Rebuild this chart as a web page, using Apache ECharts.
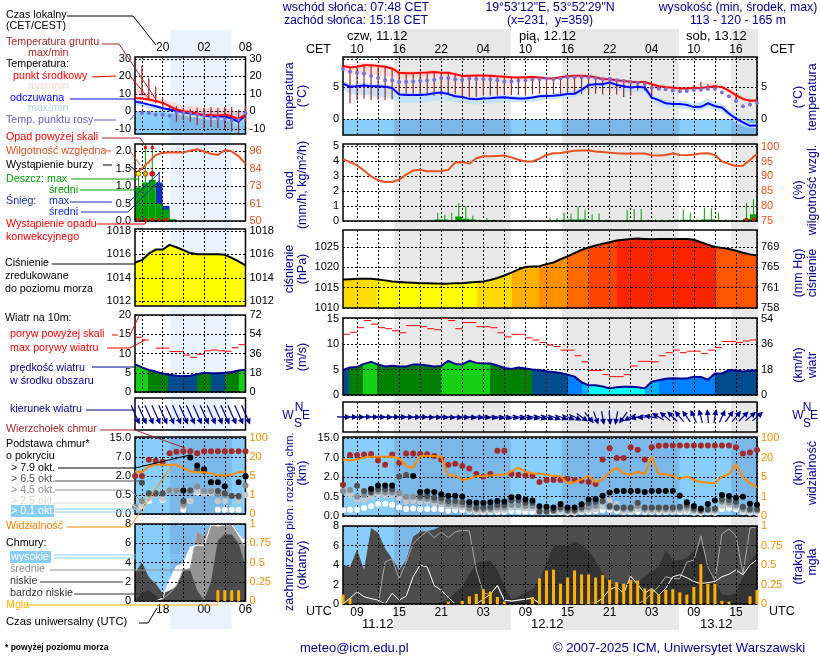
<!DOCTYPE html>
<html>
<head>
<meta charset="utf-8">
<title>meteogram</title>
<script src="https://cdn.jsdelivr.net/npm/echarts@6/dist/echarts.min.js"></script>
<style>
  html, body { margin: 0; padding: 0; background: #fff; }
  #chart { width: 820px; height: 660px; }
</style>
</head>
<body>
<div id="chart"></div>
<script>
// hour labels of the short (left) and long (right) meteogram
const leftUtc = ["14","15","16","17","18","19","20","21","22","23","00","01","02","03","04","05","06"];
const leftLocal = ["16","17","18","19","20","21","22","23","00","01","02","03","04","05","06","07","08"];
const rightUtc = ["07","08","09","10","11","12","13","14","15","16","17","18","19","20","21","22","23","00","01","02","03","04","05","06","07","08","09","10","11","12","13","14","15","16","17","18","19","20","21","22","23","00","01","02","03","04","05","06","07","08","09","10","11","12","13","14","15","16","17","18"];
const rightLocal = ["08","09","10","11","12","13","14","15","16","17","18","19","20","21","22","23","00","01","02","03","04","05","06","07","08","09","10","11","12","13","14","15","16","17","18","19","20","21","22","23","00","01","02","03","04","05","06","07","08","09","10","11","12","13","14","15","16","17","18","19"];

// temperature, long panel
const tempMid = [8.4,8.15,8.25,8.5,8.5,8.4,8.25,8,7.3,7.25, 7.25,7.3,7.35,7.45,7.3,7.3,7.1,6.8,6.85,6.9, 6.9,6.85,6.75,6.7,6.6,6.55,6.6,6.65,6.55,6.45, 6.4,6.6,6.75,6.85,6.85,6.75,6.6,6.3,6.3,6.15, 6,5.9,5.85,5.85,5.5,5.2,5.05,4.95,4.85,4.85, 4.9,4.9,5.05,5.2,5.05,4.5,3.8,3.2,2.9,2.95];
const tempMidMax = [8.9,8.7,8.8,8.9,8.9,8.8,8.6,8.3,7.7,7.6, 7.6,7.6,7.7,7.8,7.6,7.6,7.3,7,7.1,7.1, 7.1,7.1,7,6.9,6.8,6.8,6.8,6.9,6.8,6.7, 6.6,6.8,7,7.1,7.2,7.1,7,6.7,6.6,6.4, 6.3,6.2,6.1,6.1,5.8,5.5,5.4,5.3,5.2,5.2, 5.3,5.6,5.7,5.7,5.5,4.9,4.2,3.6,3.2,3.2];
const tempMidMin = [7.6,7.1,7,6.9,6.9,6.9,6.9,6.8,6.6,6.6, 6.6,6.7,6.8,6.9,6.8,6.8,6.6,6.4,6.4,6.5, 6.5,6.4,6.4,6.3,6.2,6.2,6.2,6.3,6.2,6.1, 6,6.2,6.3,6.4,6.4,6.3,6.2,5.9,5.8,5.7, 5.6,5.5,5.5,5.5,5.1,4.9,4.7,4.6,4.5,4.5, 4.5,4.5,4.6,4.8,4.6,4.1,3.4,2.8,2.6,2.6];
const tempFeel = [5.6,5.1,5.2,5.3,5.2,5.2,5.1,4.9,3.9,3.8, 3.8,3.8,3.9,4.1,4.2,3.95,3.6,3.5,3.2,3.15, 3.25,3.3,3.4,3.45,3.35,3.25,3.25,3.4,3.6,3.65, 3.7,3.8,3.95,4,4.6,5.4,5.5,5.5,5.8,5.4, 5.2,5,5.1,5,3.4,3,2.5,2.4,2.4,2.25, 1.9,1.95,2.5,2.05,1.85,0.9,0.1,-0.5,-1.05,-1];
const tempFeelMax = [6.1,5.6,5.7,5.8,5.7,5.6,5.5,5.3,4.3,4.2, 4.2,4.2,4.3,4.5,4.6,4.4,4,3.8,3.5,3.5, 3.6,3.6,3.7,3.8,3.7,3.6,3.6,3.7,3.9,4, 4.1,4.2,4.4,4.5,5,5.7,5.8,5.8,6,5.7, 5.5,5.3,5.4,5.3,3.9,3.5,3,2.9,2.9,2.8, 2.5,2.7,3.2,2.7,2.4,1.5,0.7,0.1,-0.6,-0.6];
const tempFeelMin = [4.7,3.9,3.9,3.8,3.7,3.5,3.4,3.3,2.7,2.6, 2.6,2.6,2.7,2.9,3,2.9,2.7,2.6,2.4,2.3, 2.4,2.5,2.6,2.7,2.7,2.7,2.7,2.8,2.9,3.1, 3.1,3.2,3.4,3.4,3.9,4.7,4.8,4.8,4.9,4.6, 4.4,4.2,4.3,4.3,2.8,2.2,1.8,1.7,1.7,1.6, 1.3,1.4,1.8,1.5,1.2,0.3,-0.6,-1.1,-1.4,-1.4];
const dewPoint = [7.9,7.5,7.3,7.2,6.8,6.5,6.15,6.15,5.85,5.9, 5.95,6,6.1,6.2,6.5,6.5,6.3,6.2,6.4,6.35, 6.35,6.3,6.15,5.95,5.95,6.05,6.15,6.25,6.35,6.4, 6.35,6.45,6.6,6.6,6.6,6.6,6.5,6.35,6.35,6.15, 6,5.85,5.75,5.6,5,4.8,4.7,4.5,4.4,4.45, 4.6,4.7,4.8,4.8,4.2,3.6,2.85,2.05,2.3,2.6];
const groundMax = [null,8,8.2,8.4,8.4,8.3,8.2,7.9,7.2,7.2, 7.2,7.2,7.3,7.4,7.3,7.3,7,6.8,6.8,6.9, 6.9,6.8,6.7,6.6,6.6,6.5,6.6,6.6,6.5,6.4, 6.4,6.6,6.7,6.8,6.8,6.7,6.6,6.3,6.3,6.1, 6,5.9,5.8,5.8,5.5,null,null,null,null,null, 5.3,5.9,5.5,5.3,null,null,3.8,null,null,null];
const groundMin = [null,2.5,3,3.2,3,3.1,3,3.1,3.8,3.8, 3.7,3.7,3.8,3.7,3.7,4,4,3.4,3.5,3.5, 3.7,3.7,3.7,3.8,3.8,3.8,3.7,3.9,4,3.9, 3.9,4,4.1,4,3.9,4,4,3.9,4,3.9, 3.5,3.7,4.5,4.5,3.7,null,null,null,null,null, 4.5,4.3,4.5,4.6,null,null,3,null,null,null];

// temperature, short panel
const shortTempMid = [7.5,7.3,6.7,5.9,4.8,2.9,1,0,-0.4,-1.3,-2.1,-2.1,-2.5,-1.9,-2.9,-4.4,-1.9];
const shortTempMax = [13.4,11.5,9.6,8.6,7.3,5.7,4.4,3.3,2.9,2.9,1.9,1.7,1.9,1.9,1,-1.3,1.9];
const shortTempMin = [6.5,6.3,5.7,4.9,3.8,1.9,0,-1,-1.4,-2.3,-3.1,-3.1,-3.5,-2.9,-3.9,-5.4,-2.9];
const shortFeel = [5.5,4.8,3.8,2.9,1.7,1,0.2,-0.4,-1.3,-1.5,-2.5,-3,-3,-3,-4.2,-6,-2.3];
const shortFeelMax = [6.5,5.8,4.8,3.9,2.7,2,1.2,0.6,-0.3,-0.5,-1.5,-2,-2,-2,-3.2,-5,-1.3];
const shortFeelMin = [3.5,2.8,1.8,0.9,-0.3,-1,-1.8,-2.4,-3.3,-3.5,-4.5,-5,-5,-5,-6.2,-8,-4.3];
const shortDew = [null,-1,-1,-2,-2,-2.5,-1,-1,-1.3,-2,-2.5,-3.3,-3.8,-4.4,-5.2,-4.8,-1];
const shortGroundMax = [null,26,19,14,8,3,3,2,1.5,2,2,2.5,2,2.5,2.5,1,3];
const shortGroundMin = [null,9,6.7,4.4,2,0,-6,-5,-6,-8,-9.5,-9,-9.5,-10,-11.5,-12.5,-6];

// precipitation and humidity
const humidity = [95.8,94.8,93.7,92,90,88.7,88.1,88.1,88.9,90.6, 92,92.2,91.7,91.7,91.8,92.2,94.7,94.8,94.3,96.1, 96.8,96.8,96.9,97,96.4,95.6,95,95,96,97.2, 97.8,97.9,98.3,98.6,98.7,98.7,98.4,98.2,98,97.8, 97.7,97.6,97.7,97.7,97.1,97,97.2,97.7,97.2,97.1, 97.4,97.7,97.8,97.2,95,94.2,93.5,93.6,95.5,97.5];
const rainMax = [0,0,0,0,0,0.1,0,0,0,0, 0,0,0.05,0.55,0.4,0.55,1.2,0.95,0.35,0.1, 0.2,0.1,0.1,0,0,0.05,0.1,0,0,0.2, 0.2,0.55,0.5,0.95,0.75,0.45,0.5,0.1,0,0, 0.75,0.8,0.8,0.1,0.1,0.1,0.1,0.1,0.75,0.55, 0.1,0.9,0.85,0.55,0.1,0.1,0,1.2,1.45,0];
const rainMean = [0,0,0,0,0,0,0,0,0,0, 0,0,0.02,0.1,0.1,0.05,0.3,0.15,0.1,0.05, 0.05,0.05,0.02,0,0,0,0.02,0,0,0.03, 0.05,0.08,0.1,0.1,0.1,0.06,0.06,0.03,0,0, 0.02,0.02,0.02,0.02,0.02,0.02,0.02,0.05,0.08,0.08, 0.05,0.1,0.1,0.06,0.03,0.01,0,0.15,0.45,0];
const convectiveHours = [57,58];
const shortHumidity = [81,84.3,88.7,93.1,94.7,94.9,94.9,94.9,96,97,95.5,94,93.2,96.3,95.6,92.5,87.6];
const shortRainMax = [1.35,2.2,2.2,0.5,0.33,0.05,0,0,0,0,0,0,0,0,0,0,0];
const shortRainMean = [0.96,1.1,1.18,0.5,0.33,0.05,0,0,0,0,0,0,0,0,0,0,0];
const shortSnowMax = [0,0,0,1.4,0.43,0,0,0,0,0,0,0,0,0,0,0,0];
const shortSnowMean = [0,0,0,1.1,0.43,0,0,0,0,0,0,0,0,0,0,0,0];
const shortConvective = [0,1,2,3,4];
const shortAboveScale = [1,2];
const shortStorm = [0,1,2];

// pressure, hPa
const pressure = [1017,1017.1,1017.2,1017.2,1017.2,1017,1016.8,1016.5,1016.4,1016.3, 1016.2,1016.1,1016.1,1016.05,1016,1016,1016.1,1016.1,1016.3,1016.4, 1016.5,1016.9,1017.4,1018,1018.7,1019.5,1020.1,1020.2,1020.3,1020.8, 1021.2,1022,1022.7,1023.5,1024.3,1024.9,1025.4,1025.8,1026.2,1026.6, 1026.8,1027,1027.1,1027,1026.9,1027,1027,1027,1027,1027, 1026.8,1026.2,1025.6,1025,1024.8,1024.5,1024.1,1023.6,1023.2,1022.9];
const shortPressure = [1015.3,1015.5,1016.05,1016.4,1016.4,1016.8,1016.6,1016.35,1016.1,1016,1016,1016,1016,1015.95,1015.7,1015.4,1015.05];
const pressureBandEnds = [2,3.1,4.9,19.1,24.1,28,32,35,39,53.2,59];

// wind
const windSpeed = [4.9,5.4,5.5,6.1,6.5,6,5.6,5.75,5.6,5.6, 6,6,5.8,5.6,5.7,6.7,6.1,6,6.7,6.3, 6.2,6.2,5.8,5.3,5.1,5.4,5.2,5,4.9,4.6, 4.5,4.3,4,3.6,2.5,1.9,1.9,1.65,1.3,1.5, 1.6,1.6,1.5,1.3,2.6,2.9,3.2,3.3,3.25,3.25, 3.6,3.55,3,4.2,4.2,4.9,4.8,4.6,4.8,4.8];
const windGust = [11.9,12.3,13.2,14.6,13.9,13.2,13,12.6,12.2,13.6, 13.6,13.4,13,12.8,15,14.6,13,14.2,14.2,13.4, 13.4,13.2,12.2,11.4,11.9,11.9,11.2,10.8,10.3,9.8, 9.5,8.8,8.8,7.7,6.5,4.8,4.8,4,3.6,3.6, 4,5.7,6.6,6.6,6.5,7.7,8.3,8.8,8.3,8.6, 8.6,8.1,8.8,9.3,10.5,10.5,10.3,10.6,10.8,10.8];
const windHeading = [92,90,90,88,90,92,92,90,92,92, 92,92,94,94,96,96,96,96,98,98, 98,100,100,102,102,105,105,105,108,108, 110,110,112,115,125,140,160,170,175,190, 215,240,255,265,280,300,310,315,320,325, 335,345,355,10,25,35,40,45,50,50];
const windBandEnds = [0.9,2.8,4.9,14,21,27,32,34,35,43,45,53,59];
const shortWindSpeed = [7.2,6.4,5.7,5.3,4.8,4.5,4.2,4.15,4.2,4.6,5,4.9,4.9,5,5.2,5.6,5.8];
const shortWindGust = [14.2,13.5,null,11.4,11.4,10.5,10.5,9.6,9,9.8,10.7,10.9,10.7,10.6,11.5,12.3,12.6];
const shortWindHeading = [156,156,156,156,156,156,156,156,156,156,156,156,156,156,156,156,156];
const shortWindBandEnds = [1.9,4.85,9,11,13.1,15,16];

// cloud base and top, visibility: values as they sit on the stretched scale, one unit per tick label
const cloudTop = [1.6,3.13,3.13,3.15,3.18,2.85,2.63,3.15,2.73,3.2, 3.2,3.18,3.16,3.08,2.9,2.63,2.68,2.56,2.44,2.15, 2.03,2.15,3.35,3.35,2.15,2.12,2.07,2.05,1.74,1.83, 1.85,1.85,1.91,1.85,1.81,1.74,1.64,2.9,3.47,2.97, 2.97,3.52,3.4,2.9,3.52,3.6,3.62,3.62,3.62,3.62, 3.62,3.62,3.62,3.62,3.62,3.62,3.52,3.2,3.25,3.38];
const baseOver79 = [null,null,null,null,1.4,1.57,1.57,1.57,null,null, 2.05,1.23,1.26,1.23,1.11,1.04,1.04,1,0.72,0.68, 0.68,0.7,0.77,0.74,0.96,0.97,0.84,0.79,0.5,0.48, 0.44,0.62,0.44,0.43,0.6,0.85,0.87,1.04,1.2,1.28, 1.28,1.28,1.28,1.23,1.28,1.28,1.28,1.28,1.04,0.7, 0.51,0.38,0.62,0.8,1.08,1.03,0.94,0.99,0.63,0.58];
const baseOver65 = [null,null,1.55,1.28,1.23,1.37,1.37,1.37,2.02,2.1, null,1.03,1.03,0.94,0.91,0.77,0.77,0.72,0.56,0.43, 0.43,0.48,0.56,0.56,0.79,0.79,0.68,0.68,0.22,0.22, 0.31,0.44,0.31,0.31,0.44,0.65,0.73,0.77,0.51,0.44, 0.44,0.44,0.68,0.44,0.44,0.44,0.44,0.43,0.48,0.56, 0.39,0.31,0.34,0.39,0.85,0.82,0.73,0.48,0.36,0.34];
const baseOver45 = [1.28,1.33,0.99,1.08,1.16,1.25,1.21,1.21,1.16,0.99, 0.99,0.91,0.87,0.79,0.73,0.62,0.62,0.56,0.39,0.34, 0.34,0.36,0.44,0.44,0.56,0.56,0.51,0.51,0.31,0.31, 0.26,0.36,0.26,0.26,0.36,0.44,0.51,0.73,0.44,0.39, 0.36,0.36,0.51,0.36,0.36,0.36,0.36,0.36,0.39,0.44, 0.31,0.26,0.31,0.31,0.73,0.68,0.56,0.36,0.29,0.29];
const baseOver25 = [1.25,1.08,0.82,0.82,0.99,1.08,1.08,1.08,0.91,0.73, 0.77,0.73,0.73,0.65,0.62,0.51,0.48,0.44,0.31,0.26, 0.26,0.27,0.31,0.31,0.43,0.43,0.39,0.38,0.26,0.26, 0.22,0.26,0.2,0.2,0.26,0.31,0.34,0.48,0.79,0.62, 0.26,0.26,0.34,0.26,0.26,0.26,0.26,0.26,0.29,0.31, 0.22,0.2,0.24,0.22,0.51,0.56,0.44,0.26,0.22,0.22];
const baseOver01 = [0.29,0.32,0.32,0.41,0.5,0.62,0.62,0.58,0.44,0.36, 0.38,0.36,0.36,0.36,0.34,0.27,0.31,0.29,0.24,0.2, 0.2,0.2,0.2,0.2,0.24,0.24,0.22,0.22,0.2,0.2, 0.19,0.2,0.17,0.17,0.2,0.22,0.24,0.29,0.31,0.27, 0.2,0.2,0.22,0.2,0.2,0.2,0.2,0.2,0.2,0.22, 0.17,0.17,0.19,0.17,0.34,0.39,0.34,0.2,0.17,0.17];
const visibility = [2.9,2.84,2.9,3,3.04,3.04,3.04,3.04,2.96,2.55, 2.48,3.08,3.07,3.07,3.04,2.08,2.08,1.85,1.91,2.05, 2.05,2.08,2.12,2.12,2.29,2.48,2.27,2.19,2.17,2.12, 2.05,2.05,1.68,1.73,1.88,2.05,1.74,1.88,2.22,2.48, 2.19,2.12,2.27,2.14,3.04,2.14,2.15,2.05,1.91,2.02, 1.85,1.74,1.71,1.66,2.02,2.15,2.65,1.97,1.68,1.47];
const shortCloudTop = [2,2,2.85,2.8,2.75,3.2,3.28,3.3,3.3,3.2,3.3,3.3,3.3,3.3,3.3,3.3,3.3];
const shortOver79 = [null,null,null,null,null,null,null,1.24,2.97,2.55,2.36,1.67,1.67,1.46,null,1.67,1.98];
const shortOver65 = [null,1.64,1.09,1.09,1.09,null,null,0.69,1.24,2.33,2.26,1.67,1.21,1.09,0.95,0.95,1.98];
const shortOver45 = [0.38,0.69,1.05,1.05,1.05,1.24,1.24,0.5,1.24,1.45,1.2,1.2,1.05,1,0.95,0.9,1.5];
const shortOver25 = [0.35,0.5,0.8,1,0.8,1.24,1.24,0.4,0.7,1.2,1.1,1.1,0.69,0.69,0.95,0.69,1];
const shortOver01 = [null,0.43,0.69,null,0.74,null,null,0.22,0.69,1.12,1.12,1.12,0.22,0.22,0.22,0.22,null];
const shortVisibility = [2.24,2.2,2.5,2.59,2.59,2.59,2.59,2.41,2.24,2.2,2.2,2.15,2.03,2.03,2.07,2.2,2.24];

// cloud cover in oktas, fog as fraction
const coverHigh = [0,0.6,1.25,0.75,0.55,0.4,0,1.1,0.4,0.8, 2.8,4,3.8,1.9,1.4,0.7,0,0,0,0, 0.5,1,1.9,0.4,0.3,0.4,0.5,0.6,0.1,0, 0,0,0,0.03,0.05,0.05,0.1,0.6,1.5,1.75, 1.1,2.85,2,1.1,1.6,0.9,1.6,2.8,3,2.7, 2.3,2.1,2.2,2.3,2.8,3.05,3.5,3,4,4.55];
const coverMid = [0,0,0,0,0,0,4.3,4.65,2.6,4.3, 6.2,6.9,7.5,6.8,7.4,6.8,7.4,7.55,7.5,3.5, 1.1,1,1.9,0.4,0.3,0.4,0.5,0.6,0,0, 0,0,0,0,0,0,0,0,0,0, 0,0,0,0.4,1.1,1.8,2.8,2.6,2.6,4.3, 4.5,7,3.8,2.4,7.2,7.7,7,3.1,7.8,7.9];
const coverLow = [4,3.8,5.6,3.5,7.8,7.3,5.7,4.65,3.5,4.5, 6.9,7.4,7.5,7.65,8,8,8,8,8,8, 8,8,8,8,8,8,8,8,8,8, 8,8,8,8,8,8,8,8,8,8, 8,8,8,8,8,8,8,8,8,8, 8,8,8,8,7.9,8,8,8,7.95,8];
const coverVeryLow = [0,0,0,0,0,0,0,0,0,0, 0,0,0,0,0.2,0.4,1.2,1.8,3,4.2, 4.4,4.4,3.5,1.8,0.5,0.8,1.2,1.5,2.4,4.2, 6,6,6,6.4,6,5.5,4.5,3.1,2,1.8, 1.8,2,2.3,2.8,3.3,3.8,5.5,4.5,4.5,4.7, 5.5,6.2,4.5,2.3,1,0.9,1.1,2.8,4.3,5.3];
const fog = [0.12,0.07,0,0,0,0,0,0,0,0, 0,0,0,0,0,0.03,0,0.04,0.1,0.13, 0.19,0.16,0.09,0.03,0,0,0,0.09,0.33,0.43, 0.44,0.26,0.34,0.43,0.38,0.38,0.34,0.37,0.31,0.28, 0.26,0.31,0.3,0.2,0.19,0.13,0.18,0.19,0.15,0.12, 0.22,0.51,0.26,0.26,0.04,0.03,0,0,0.1,0.18];
const shortHigh = [0,0,0,0,0.3,2.2,3.6,3.9,5.6,5.8,5.8,7.9,7.9,7.9,7.95,6.9,6.2];
const shortMid = [0,0,0,0,0.2,0.8,1.6,3.2,3.4,7.2,6.7,7.9,7.7,7.9,7.9,6.7,5.5];
const shortLow = [2.9,4,2.5,1.8,0.8,1.1,1.5,3.4,3.2,1.1,0.1,2,6.3,6.9,6.9,6,3.6];
const shortVeryLow = [0,0.8,1.1,0.6,0,0,0,0,0,0,0,0,0,0,0,0,0];
const shortFog = [0,0,0,0,0,0,0,0,0,0,0,0,0.14,0.14,0.14,0.14,0];

// layout of the panels: top, bottom of each, same order on both sides
const leftRows = [[57,134],[144,221],[229,306],[315,392],[398,430],[437,514],[524,601]];
const rightRows = [[57,135],[144,221],[230,308],[318,395],[402,432],[437,516],[526,604]];
const NAVY = "#000090", ORANGE = "#ff8c00", HUM = "#e8501e", SANS = "Liberation Sans";
const nightsRight = [[7.3,23.9],[31.2,47.9],[55.3,59]];
const nightsLeft = [[5.1,14]];

let grid = [], xAxis = [], yAxis = [], series = [];

function yCfg(g, pos, min, max, tickVals, labelVals, labelTxt, color, withLines) {
  return {
    type: "value", gridIndex: g, position: pos, min: min, max: max, z: 3,
    axisLine: { show: false },
    axisTick: { show: false, customValues: tickVals },
    splitLine: { show: withLines, lineStyle: { color: "#000", width: 1, type: [2, 2] } },
    axisLabel: {
      show: labelVals.length > 0, customValues: labelVals, margin: 4, color: color,
      fontFamily: SANS, fontSize: 11,
      formatter: (v) => labelTxt[labelVals.indexOf(v)]
    }
  };
}

function addPanel(row, x0, x1, cats, step0, labels, pos, left, right, labelGap) {
  let g = grid.length;
  grid.push({ show: true, z: 3, left: x0, width: x1 - x0, top: row[0], height: row[1] - row[0],
    borderColor: "#000", borderWidth: 1.5, backgroundColor: "transparent" });
  xAxis.push({
    type: "category", gridIndex: g, data: cats, boundaryGap: false, position: pos, z: 3,
    axisLine: { show: false }, axisTick: { show: false },
    splitLine: { show: true, interval: (i) => (i - step0) % 3 === 0,
      lineStyle: { color: "#000", width: 1, type: [2, 2] } },
    axisLabel: { show: labels !== false, interval: (i) => (i - labels) % 6 === 0, margin: labelGap === undefined ? 3 : labelGap,
      color: "#000", fontFamily: SANS, fontSize: 12 }
  });
  yAxis.push(yCfg(g, "left", left.min, left.max, left.ticks, left.vals, left.txt, "#000", true));
  yAxis.push(yCfg(g, "right", right.min, right.max, right.vals, right.vals, right.txt, right.color || "#000", false));
  return g;
}

function line(g, data, color, width, z, extra) {
  return Object.assign({ type: "line", xAxisIndex: g, yAxisIndex: g * 2, data: data, symbol: "none",
    lineStyle: { color: color, width: width }, itemStyle: { color: color }, z: z, animation: false, silent: true }, extra || {});
}

function area(g, data, fill) {
  return line(g, data, fill, 0, 1, { areaStyle: { color: fill, opacity: 1, origin: "start" } });
}

function bandFill(ends, colors) {
  let stops = [], prev = 0, last = ends[ends.length - 1];
  ends.forEach((e, i) => {
    stops.push({ offset: prev / last, color: colors[i] });
    stops.push({ offset: e / last, color: colors[i] });
    prev = e;
  });
  return new echarts.graphic.LinearGradient(0, 0, 1, 0, stops);
}

function custom(g, n, render, z, yIdx) {
  let data = [];
  for (let i = 0; i < n; i++) data.push([0, 0]);
  return { type: "custom", xAxisIndex: g, yAxisIndex: yIdx === undefined ? g * 2 : yIdx, data: data,
    renderItem: render, z: z, silent: true, animation: false };
}

// rectangles over fractional hour ranges, used for sky and night shading
function blocks(g, ranges, y0, y1, color) {
  return custom(g, ranges.length, (p, api) => {
    let r = ranges[p.dataIndex];
    let a = api.coord([0, y0]), b = api.coord([1, y1]);
    let w = b[0] - a[0];
    return { type: "rect", shape: { x: a[0] + r[0] * w, y: b[1], width: (r[1] - r[0]) * w, height: a[1] - b[1] },
      style: { fill: color } };
  }, 1);
}

function band(g, upper, lower, color) {
  return custom(g, 1, (p, api) => {
    let pts = upper.map((v, i) => api.coord([i, v]));
    for (let i = lower.length - 1; i >= 0; i--) pts.push(api.coord([i, lower[i]]));
    return { type: "polygon", shape: { points: pts }, style: { fill: color } };
  }, 2);
}

function stems(g, tops, bottoms, color) {
  return custom(g, tops.length, (p, api) => {
    let i = p.dataIndex;
    if (tops[i] === null) return;
    let a = api.coord([i, tops[i]]), b = api.coord([i, bottoms[i]]);
    return { type: "line", shape: { x1: a[0], y1: a[1], x2: b[0], y2: b[1] }, style: { stroke: color, lineWidth: 1.2 } };
  }, 4);
}

// precipitation covers the hour that follows the tick
function hourBars(g, values, color, thin) {
  return custom(g, values.length, (p, api) => {
    let i = p.dataIndex;
    if (!values[i] || i === values.length - 1) return;
    let a = api.coord([i, 0]), b = api.coord([i + 1, values[i]]);
    let w = b[0] - a[0];
    return { type: "rect", shape: { x: thin ? a[0] + w / 2 - 0.5 : a[0], y: b[1], width: thin ? 1 : w, height: a[1] - b[1] },
      style: { fill: color } };
  }, 2);
}

function markers(g, hours, val, colors, round, size) {
  return custom(g, hours.length, (p, api) => {
    let a = api.coord([hours[p.dataIndex], val]), b = api.coord([hours[p.dataIndex] + 1, val]);
    let cx = (a[0] + b[0]) / 2, c = colors[p.dataIndex % colors.length];
    if (round) return { type: "circle", shape: { cx: cx, cy: a[1], r: size }, style: { fill: c, stroke: "#000", lineWidth: 0.5 } };
    return { type: "rect", shape: { x: cx - size, y: a[1] - size, width: size * 2, height: size * 2 }, style: { fill: c } };
  }, 5);
}

function gusts(g, values) {
  return custom(g, values.length, (p, api) => {
    let i = p.dataIndex;
    if (values[i] === null || i === values.length - 1) return;
    let a = api.coord([i, values[i]]), b = api.coord([i + 1, values[i]]);
    return { type: "line", shape: { x1: a[0], y1: a[1], x2: b[0], y2: b[1] }, style: { stroke: "#ff0000", lineWidth: 1 } };
  }, 5);
}

function arrows(g, headings, len) {
  return custom(g, headings.length, (p, api) => {
    let i = p.dataIndex, c = api.coord([i, 0]);
    let r = headings[i] * Math.PI / 180, dx = Math.sin(r) * len / 2, dy = -Math.cos(r) * len / 2;
    let tx = c[0] + dx, ty = c[1] + dy, ux = Math.sin(r), uy = -Math.cos(r);
    return { type: "group", children: [
      { type: "line", shape: { x1: c[0] - dx, y1: c[1] - dy, x2: tx, y2: ty }, style: { stroke: NAVY, lineWidth: 1.2 } },
      { type: "polygon", shape: { points: [[tx + ux * 2, ty + uy * 2], [tx - ux * 4 - uy * 3, ty - uy * 4 + ux * 3], [tx - ux * 4 + uy * 3, ty - uy * 4 - ux * 3]] },
        style: { fill: NAVY } }
    ] };
  }, 5);
}

function dots(g, data, color, size, z) {
  return { type: "scatter", xAxisIndex: g, yAxisIndex: g * 2, data: data, symbolSize: size,
    itemStyle: { color: color, opacity: 1 }, z: z || 4, animation: false, silent: true };
}

const stretched = { vals: [0, 1, 2, 3, 4], txt: ["0.0", "0.5", "2.0", "7.0", "15.0"] };
const visTicks = { vals: [0, 1, 2, 3, 4], txt: ["0", "1", "5", "20", "100"] };
const pressColors = ["#ffd800", "#ffdb00", "#ffe000", "#ffff00", "#ffd800", "#ffb000", "#ff9000", "#ff6a00", "#ff4400", "#ff2400", "#ff5500"];
const windColors = ["#004b8d", "#008000", "#16d016", "#008000", "#16d016", "#008000", "#004b8d", "#0080ff", "#00b0ff", "#00ffff", "#00b0ff", "#0080ff", "#004b8d"];
const shortWindColors = ["#16d016", "#008000", "#004b8d", "#008000", "#004b8d", "#008000", "#16d016"];

// one full column of panels, p holds the series arrays of that side
function buildSide(p) {
  let N = p.mid.length;
  let r = p.rows, x0 = p.x0, x1 = p.x1, s0 = p.step0;

  let g0 = addPanel(r[0], x0, x1, p.local, s0, p.topLabel, "top",
    { min: p.tempRange[0], max: p.tempRange[1], ticks: p.tempTicks, vals: p.tempVals, txt: p.tempVals.map(String) },
    { min: p.tempRange[0], max: p.tempRange[1], vals: p.tempVals, txt: p.tempVals.map(String) }, p.topGap);
  series.push(blocks(g0, [[0, N - 1]], p.tempRange[0], 0, "#87cefa"));
  series.push(blocks(g0, p.nights, p.tempRange[0], 0, "#7ab8ea"));
  series.push(band(g0, p.midMax, p.midMin, "rgba(255,205,205,0.65)"));
  series.push(band(g0, p.feelMax, p.feelMin, "rgba(190,226,252,0.9)"));
  series.push(stems(g0, p.gMax, p.gMin, "#a52a2a"));
  series.push(line(g0, p.feel, "#0000ff", 2, 4));
  series.push(line(g0, p.mid, "#ff0000", 2, 4));
  series.push(dots(g0, p.dew, "#7a6fd8", 4, 5));

  let g1 = addPanel(r[1], x0, x1, p.utc, s0, false, "bottom",
    { min: 0, max: p.rainTop, ticks: p.rainVals, vals: p.rainVals, txt: p.rainTxt },
    { min: p.humRange[0], max: p.humRange[1], vals: p.humVals, txt: p.humVals.map(String), color: HUM });
  if (p.snowMean) {
    series.push(hourBars(g1, p.snowMax, "#0000c0", true));
    series.push(hourBars(g1, p.snowMean, "#1030c0", false));
  }
  series.push(hourBars(g1, p.rainMean, "#00a000", false));
  series.push(hourBars(g1, p.rainMax, "#00a000", true));
  series.push(Object.assign(line(g1, p.hum, HUM, 2, 4), { yAxisIndex: g1 * 2 + 1 }));
  series.push(markers(g1, p.conv, 0.02 * p.rainTop, ["#ff0000"], false, 1.5));
  if (p.storm) {
    series.push(markers(g1, p.storm, 1.35, ["#ffff00", "#ffa500", "#ff0000"], true, 2.5));
    series.push(markers(g1, p.above, 2.1, ["#ff0000"], false, 1.5));
  }

  let g2 = addPanel(r[2], x0, x1, p.utc, s0, false, "bottom",
    { min: p.pressRange[0], max: p.pressRange[1], ticks: p.pressVals, vals: p.pressVals, txt: p.pressVals.map(String) },
    { min: p.pressRange[0], max: p.pressRange[1], vals: p.pressVals, txt: p.pressTxt });
  series.push(area(g2, p.press, p.pressFill));
  series.push(line(g2, p.press, "#000", 2, 4));

  let g3 = addPanel(r[3], x0, x1, p.utc, s0, false, "bottom",
    { min: 0, max: p.windTop, ticks: p.windVals, vals: p.windVals, txt: p.windVals.map(String) },
    { min: 0, max: p.windTop, vals: p.windVals, txt: p.windTxt });
  series.push(area(g3, p.wind, p.windFill));
  series.push(line(g3, p.wind, NAVY, 2, 4));
  series.push(gusts(g3, p.gust));

  let g4 = addPanel(r[4], x0, x1, p.utc, s0, false, "bottom",
    { min: -1, max: 1, ticks: [], vals: [], txt: [] }, { min: -1, max: 1, vals: [], txt: [] });
  series.push(arrows(g4, p.heading, p.arrowLen));

  let g5 = addPanel(r[5], x0, x1, p.utc, s0, false, "bottom",
    { min: 0, max: 4.05, ticks: stretched.vals, vals: stretched.vals, txt: stretched.txt },
    { min: 0, max: 4.05, vals: visTicks.vals, txt: visTicks.txt, color: ORANGE });
  series.push(blocks(g5, [[0, N - 1]], 0, 4.05, "#87cefa"));
  series.push(blocks(g5, p.nights, 0, 4.05, "#7ab8ea"));
  series.push(dots(g5, p.b01, "#ffffff", 6));
  series.push(dots(g5, p.b25, "#c8c8c8", 6));
  series.push(dots(g5, p.b45, "#8c8c8c", 6));
  series.push(dots(g5, p.b65, "#505050", 6));
  series.push(dots(g5, p.b79, "#000000", 6));
  series.push(dots(g5, p.top, "#a52a2a", 6));
  series.push(line(g5, p.vis, ORANGE, 2, 5));

  let g6 = addPanel(r[6], x0, x1, p.utc, s0, p.botLabel, "bottom",
    { min: 0, max: 8, ticks: [0, 2, 4, 6, 8], vals: [0, 2, 4, 6, 8], txt: ["0", "2", "4", "6", "8"] },
    { min: 0, max: 1, vals: [0, 0.25, 0.5, 0.75, 1], txt: ["0", "0.25", "0.5", "0.75", "1"], color: ORANGE });
  series.push(blocks(g6, [[0, N - 1]], 0, 8, "#87cefa"));
  series.push(blocks(g6, p.nights, 0, 8, "#7ab8ea"));
  series.push(area(g6, p.high, "#ffffff"));
  series.push(area(g6, p.midC, "#949494"));
  series.push(area(g6, p.low, "#4c4c4c"));
  series.push(area(g6, p.veryLow, "#333333"));
  series.push(line(g6, p.midC, "#a8a8a8", 1, 2.5));
  series.push(line(g6, p.high, "#ffffff", 1, 2.5));
  series.push({ type: "bar", xAxisIndex: g6, yAxisIndex: g6 * 2 + 1, data: p.fogV, barWidth: 3,
    itemStyle: { color: "#ffb000" }, z: 4, animation: false, silent: true });
}

buildSide({
  rows: leftRows, x0: 135, x1: 245.5, step0: 1, topLabel: 4, botLabel: 4, topGap: 3, local: leftLocal, utc: leftUtc, nights: nightsLeft,
  mid: shortTempMid, midMax: shortTempMax, midMin: shortTempMin, feel: shortFeel, feelMax: shortFeelMax, feelMin: shortFeelMin,
  dew: shortDew, gMax: shortGroundMax, gMin: shortGroundMin, tempRange: [-13, 31], tempTicks: [-10, 0, 10, 20, 30], tempVals: [-10, 0, 10, 20, 30],
  rainTop: 2.2, rainVals: [0, 0.5, 1, 1.5, 2], rainTxt: ["0.0", "0.5", "1.0", "1.5", "2.0"], humRange: [50, 100.4], humVals: [50, 61, 73, 84, 96],
  hum: shortHumidity, rainMean: shortRainMean, rainMax: shortRainMax, snowMean: shortSnowMean, snowMax: shortSnowMax,
  conv: shortConvective, storm: shortStorm, above: shortAboveScale,
  pressRange: [1011.6, 1018.15], pressVals: [1012, 1014, 1016, 1018], pressTxt: ["1012", "1014", "1016", "1018"], press: shortPressure, pressFill: "#ffff00",
  windTop: 20, windVals: [0, 5, 10, 15, 20], windTxt: ["0", "18", "36", "54", "72"], wind: shortWindSpeed, windFill: bandFill(shortWindBandEnds, shortWindColors), gust: shortWindGust,
  heading: shortWindHeading, arrowLen: 19,
  b01: shortOver01, b25: shortOver25, b45: shortOver45, b65: shortOver65, b79: shortOver79, top: shortCloudTop, vis: shortVisibility,
  high: shortHigh, midC: shortMid, low: shortLow, veryLow: shortVeryLow, fogV: shortFog
});

buildSide({
  rows: rightRows, x0: 343, x1: 757, step0: 2, topLabel: 2, botLabel: 2, topGap: 1, local: rightLocal, utc: rightUtc, nights: nightsRight,
  mid: tempMid, midMax: tempMidMax, midMin: tempMidMin, feel: tempFeel, feelMax: tempFeelMax, feelMin: tempFeelMin,
  dew: dewPoint, gMax: groundMax, gMin: groundMin, tempRange: [-2.5, 9.8], tempTicks: [0, 5, 9.5], tempVals: [0, 5],
  rainTop: 5.15, rainVals: [0, 1, 2, 3, 4, 5], rainTxt: ["0", "1", "2", "3", "4", "5"], humRange: [75, 100.9], humVals: [75, 80, 85, 90, 95, 100],
  hum: humidity, rainMean: rainMean, rainMax: rainMax, conv: convectiveHours,
  pressRange: [1010, 1029.2], pressVals: [1010, 1015, 1020, 1025], pressTxt: ["758", "761", "765", "769"], press: pressure, pressFill: bandFill(pressureBandEnds, pressColors),
  windTop: 15.1, windVals: [0, 5, 10, 15], windTxt: ["0", "18", "36", "54"], wind: windSpeed, windFill: bandFill(windBandEnds, windColors), gust: windGust,
  heading: windHeading, arrowLen: 12,
  b01: baseOver01, b25: baseOver25, b45: baseOver45, b65: baseOver65, b79: baseOver79, top: cloudTop, vis: visibility,
  high: coverHigh, midC: coverMid, low: coverLow, veryLow: coverVeryLow, fogV: fog
});

// all the words around the panels: text, x, y, colour, size
const RED = "#ff0000", BROWN = "#a52a2a", GREEN = "#00a000", BLUE = "#0000ff";
const legendTexts = [
  ["Czas lokalny",6,15,"#000"],["(CET/CEST)",6,26,"#000"],
  ["Temperatura gruntu",6,42,BROWN],["max/min",28,53,BROWN],["Temperatura:",6,64,"#000"],
  ["punkt środkowy",13,76,RED],["max/min",28,86,"#ffdcd0"],["odczuwana",10,98,BLUE],["max/min",28,108,"#add8e6"],
  ["Temp. punktu rosy",6,120,"#6a5acd"],["Opad powyżej skali",6,137,RED],["Wilgotność względna",6,151,HUM],
  ["Wystąpienie burzy",6,165,"#000"],["Deszcz: max",6,179,GREEN],["średni",49,190,GREEN],["Śnieg:",6,201,"#1030c0"],
  ["max",49,201,"#1030c0"],["średni",49,212,"#1030c0"],["Wystąpienie opadu",6,224,RED],["konwekcyjnego",6,237,RED],
  ["Ciśnienie",5,263,"#000"],["zredukowane",5,276,"#000"],["do poziomu morza",5,289,"#000"],["Wiatr na 10m:",5,318,"#000"],
  ["poryw powyżej skali",10,334,RED],["max porywy wiatru",10,348,RED],["prędkość wiatru",10,368,NAVY],["w środku obszaru",10,381,NAVY],
  ["kierunek wiatru",10,409,NAVY],["Wierzchołek chmur",6,429,BROWN],["Podstawa chmur*",6,444,"#000"],["o pokryciu",6,456,"#000"],
  ["> 7.9 okt.",11,468,"#000"],["> 6.5 okt.",11,479,"#505050"],["> 4.5 okt.",11,490,"#909090"],["> 2.5 okt.",11,501,"#d8d8d0"],
  ["Widzialność",6,526,"#ff8000"],["Chmury:",6,543,"#000"],["średnie",10,569,"#909090"],["niskie",10,581,"#333"],
  ["bardzo niskie",10,593,"#333"],["Mgła",6,605,"#ffb000"],["Czas uniwersalny (UTC)",6,622,"#000",11.2],
  ["CET",306,50,"#000",12.5],["CET",770,50,"#000",12.5],["UTC",306,612,"#000",12.5],["UTC",769,612,"#000",12.5],
  ["czw, 11.12",347,36,"#000",13],["pią, 12.12",519,36,"#000",13],["sob, 13.12",686,36,"#000",13],
  ["11.12",362,624,"#000",13],["12.12",531,624,"#000",13],["13.12",700,624,"#000",13],
  ["meteo@icm.edu.pl",300,648,NAVY,13],["© 2007-2025 ICM, Uniwersytet Warszawski",553,648,NAVY,13.1]
];
const centerTexts = [
  ["wschód słońca: 07:48 CET",356,8],["zachód słońca: 15:18 CET",356,21],
  ["19°53'12\"E, 53°52'29\"N",550,8],["(x=231,  y=359)",550,21],
  ["wysokość (min, środek, max)",738,8],["113 - 120 - 165 m",738,21]
];
// rotated titles on both sides of the long panels
const sideTitles = [
  ["temperatura",290,96],["(°C)",303,96],["opad",290,185],["(mm/h, kg/m²/h)",303,185],["ciśnienie",290,269],["(hPa)",303,269],
  ["wiatr",290,357],["(m/s)",303,357],["pion. rozciągł. chm.",290,481,11.3],["(km)",303,473],["zachmurzenie",290,572],["(oktanty)",303,565],
  ["temperatura",813,97],["(°C)",799,97],["wilgotność wzgl.",813,190],["(%)",799,190],["ciśnienie",813,273],["(mm Hg)",799,273],
  ["wiatr",813,365],["(km/h)",799,365],["widzialność",813,473],["(km)",799,473],["mgła",813,562],["(frakcja)",799,562]
];
const compass = [["W",288,416],["N",299,408],["E",306,416],["S",298,424],["W",798,416],["N",807,408],["E",814,416],["S",807,424]];
// callout lines from the legend into the short panels
const callouts = [
  [[[67,16],[133,16],[156,45]],"#000"],[[[102,44],[119,44],[155,98]],BROWN],[[[92,77],[116,76]],RED],[[[130,76],[150,100]],RED],
  [[[70,99],[135,99]],BLUE],[[[94,120],[116,120]],"#6a5acd"],[[[130,120],[135,114]],"#6a5acd"],[[[102,138],[140,138],[146,146]],BROWN],
  [[[106,151],[111,151]],HUM],[[[130,151],[140,165]],HUM],[[[103,165],[112,165]],"#000"],[[[129,165],[137,172]],"#000"],
  [[[71,179],[139,179]],GREEN],[[[80,190],[146,190]],GREEN],[[[70,202],[112,202]],"#1030c0"],[[[129,202],[160,172]],"#1030c0"],
  [[[81,212],[128,212],[160,180]],"#1030c0"],[[[97,224],[145,224],[147,219]],RED],[[[52,264],[135,264]],"#000"],
  [[[112,335],[118,335]],RED],[[[130,335],[139,316]],RED],[[[107,348],[130,348],[145,340]],RED],[[[92,367],[135,367]],NAVY],
  [[[86,410],[135,410]],NAVY],[[[100,430],[135,430],[185,448]],BROWN],[[[58,468],[135,468],[190,455]],"#000"],
  [[[55,481],[142,481]],"#505050"],[[[55,490],[130,490],[145,505]],"#909090"],[[[55,503],[130,503],[140,510]],"#d8d8d0"],
  [[[55,509],[135,509]],"#87cefa"],[[[55,512],[135,512]],"#87cefa"],[[[67,527],[130,527],[172,465]],ORANGE],
  [[[54,555],[185,555]],"#87cefa"],[[[54,558],[185,558]],"#87cefa"],[[[50,570],[195,570]],"#909090"],[[[40,582],[123,582]],"#333"],
  [[[74,594],[145,594]],"#333"],[[[27,605],[217,605],[219,600]],"#ffb000"],[[[139,623],[148,623],[157,608]],"#000"]
];

let elements = [];
[[394,510.7],[562,679],[731,758]].forEach((b) => elements.push({ type: "rect", z: -10, silent: true,
  shape: { x: b[0], y: 29, width: b[1] - b[0], height: 601 }, style: { fill: "#e8e8e8" } }));
elements.push({ type: "rect", z: -10, silent: true, shape: { x: 170, y: 30, width: 61.5, height: 599 }, style: { fill: "#eaf2fd" } });

function txt(t, x, y, color, size, align) {
  return { type: "text", z: 100, silent: true, x: x, y: y,
    style: { text: t, fill: color, font: (size || 10.7) + "px '" + SANS + "'", textAlign: align || "left", textVerticalAlign: "middle" } };
}
callouts.forEach((c) => elements.push({ type: "polyline", z: 99, silent: true, shape: { points: c[0] }, style: { stroke: c[1], lineWidth: 1, fill: null } }));
elements.push({ type: "rect", z: 99, silent: true, shape: { x: 11, y: 505, width: 43, height: 12 }, style: { fill: "#87cefa" } });
elements.push({ type: "rect", z: 99, silent: true, shape: { x: 10, y: 551, width: 41, height: 12 }, style: { fill: "#87cefa" } });
legendTexts.forEach((t) => elements.push(txt(t[0], t[1], t[2], t[3], t[4])));
elements.push(txt("> 0.1 okt.", 11, 511, "#fff"));
elements.push(txt("wysokie", 11, 557, "#fff"));
elements.push({ type: "text", z: 100, silent: true, x: 5, y: 648, style: { text: "* powyżej poziomu morza", fill: "#000", font: "bold 8.5px '" + SANS + "'", textVerticalAlign: "middle" } });
centerTexts.forEach((t) => elements.push(txt(t[0], t[1], t[2], NAVY, 12.3, "center")));
sideTitles.forEach((t) => {
  let e = txt(t[0], t[1], t[2], NAVY, t[3] || 12.5, "center");
  e.rotation = Math.PI / 2;
  elements.push(e);
});
compass.forEach((t) => elements.push(txt(t[0], t[1], t[2], NAVY, 12, "center")));

const chart = echarts.init(document.getElementById("chart"));
chart.setOption({
  animation: false,
  backgroundColor: "#fff",
  grid: grid, xAxis: xAxis, yAxis: yAxis, series: series,
  graphic: { elements: elements }
});
</script>
</body>
</html>
